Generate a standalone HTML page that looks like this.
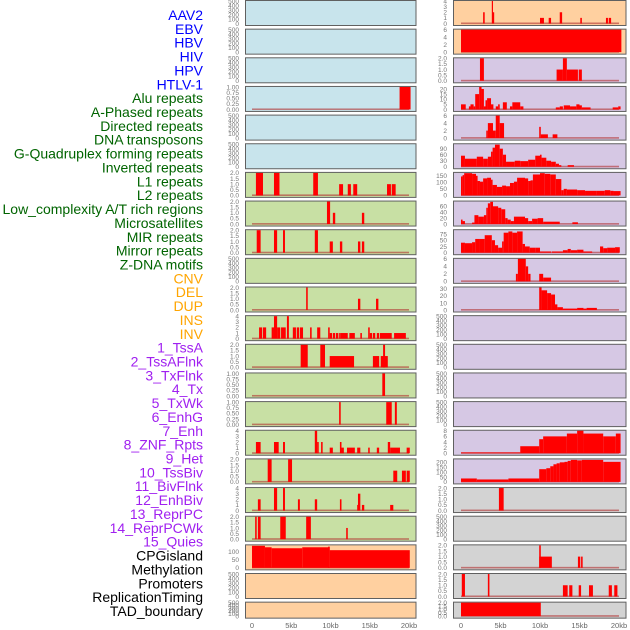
<!DOCTYPE html>
<html><head><meta charset="utf-8"><style>
body{margin:0;background:#fff}
svg{display:block;font-family:"Liberation Sans",sans-serif}
</style></head><body>
<svg id="chart" width="630" height="630" viewBox="0 0 630 630"></svg>
<script>
// ---- data: [startKb, endKb, value] per panel ----
const labelsText = ["AAV2","EBV","HBV","HIV","HPV","HTLV-1","Alu repeats","A-Phased repeats","Directed repeats","DNA transposons","G-Quadruplex forming repeats","Inverted repeats","L1 repeats","L2 repeats","Low_complexity A/T rich regions","Microsatellites","MIR repeats","Mirror repeats","Z-DNA motifs","CNV","DEL","DUP","INS","INV","1_TssA","2_TssAFlnk","3_TxFlnk","4_Tx","5_TxWk","6_EnhG","7_Enh","8_ZNF_Rpts","9_Het","10_TssBiv","11_BivFlnk","12_EnhBiv","13_ReprPC","14_ReprPCWk","15_Quies","CPGisland","Methylation","Promoters","ReplicationTiming","TAD_boundary"];
const labelColors = ["blue","blue","blue","blue","blue","blue","#006400","#006400","#006400","#006400","#006400","#006400","#006400","#006400","#006400","#006400","#006400","#006400","#006400","orange","orange","orange","orange","orange","#a020f0","#a020f0","#a020f0","#a020f0","#a020f0","#a020f0","#a020f0","#a020f0","#a020f0","#a020f0","#a020f0","#a020f0","#a020f0","#a020f0","#a020f0","#000","#000","#000","#000","#000"];
const xTicks = [0,5,10,15,20];
const xTickLabels = ["0","5kb","10kb","15kb","20kb"];

const L3 = [[18.8,20.2,1]];
const L6 = [[0.5,1.4,2],[2.8,3.5,2],[7.8,8.4,2],[11.1,11.6,1],[12.2,12.6,1],[12.9,13.4,1],[17.2,17.7,1],[17.8,18.3,1]];
const L7 = [[9.55,9.95,2],[10.3,10.6,1],[14.0,14.3,1]];
const L8 = [[0.6,1.1,2],[2.8,3.2,2],[3.95,4.2,2],[8.0,8.4,2],[9.9,10.3,1],[11.2,11.5,1],[13.5,13.8,1],[14.0,14.3,1]];
const L10 = [[6.9,7.1,2],[13.5,13.8,1],[15.8,16.1,1]];
const L11 = [[0.9,1.3,2],[1.4,1.8,2],[2.5,2.8,2],[2.8,3.2,4],[3.2,3.6,2],[3.7,4.3,2],[4.45,4.7,4],[5.2,5.6,2],[5.7,6.0,2],[6.1,6.5,2],[7.4,7.6,2],[8.3,8.7,2],[9.7,9.9,2],[9.9,10.2,1],[10.3,10.6,1],[10.7,11.0,1],[11.1,11.3,1],[11.3,12.2,1],[12.4,13.1,1],[13.8,14.0,1],[14.8,15.0,2],[15.0,15.3,1],[15.4,15.7,1],[15.9,16.2,1],[16.3,17.8,1],[18.1,19.6,1]];
const L12 = [[6.2,7.1,2],[8.7,9.3,2],[9.9,13.0,1],[15.4,16.2,1],[16.4,17.3,1],[16.7,16.95,2]];
const L13 = [[16.6,16.95,1]];
const L14 = [[11.1,11.3,1],[17.1,17.8,1],[18.2,18.45,1]];
const L15 = [[0.5,1.1,2],[2.8,3.4,2],[3.95,4.2,2],[8.0,8.3,4],[8.3,8.5,2],[8.8,9.0,2],[9.9,10.3,1],[11.2,11.4,2],[11.4,11.7,1],[12.1,13.1,1],[13.4,13.8,1],[14.8,15.0,1],[15.9,16.2,1],[17.3,17.6,2],[17.6,18.85,1],[19.7,20.1,1]];
const L16 = [[2.0,2.5,2],[4.6,5.1,2],[18.0,18.5,1],[19.1,19.6,1],[19.7,20.1,1]];
const L17 = [[0.75,1.1,2],[2.8,3.2,4],[3.95,4.2,4],[5.85,6.1,2],[8.0,8.3,2],[11.2,11.4,2],[13.4,13.6,1],[13.5,13.8,3],[14.0,14.3,1],[17.6,18.0,1]];
const L18 = [[0.4,0.6,2],[0.75,1.1,2],[3.6,4.3,2],[6.9,7.5,2],[12.0,12.2,1]];
const L19 = [[0,1.65,137],[1.65,2.5,128],[2.5,6.4,122],[6.4,9.9,128],[9.7,9.9,132],[9.9,20.1,110]];

const R0 = [[2.8,3.0,2],[3.9,4.05,4],[4.05,4.2,2],[10.0,10.5,1],[11.1,11.4,1],[12.5,12.8,2],[15.1,15.3,1],[18.35,18.6,1],[18.7,19.0,1]];
const R1 = [[0,20.3,6]];
const R2 = [[2.4,2.9,2],[12.1,12.9,1],[12.9,13.4,2],[13.4,14.8,1],[14.9,15.3,1]];
const R3 = [[0,0.6,5],[1.0,1.2,3],[1.2,1.6,5],[1.6,1.8,3],[1.8,2.3,15],[2.3,2.6,22],[2.6,2.9,20],[2.9,3.1,3],[3.1,3.3,9],[3.3,3.8,11],[3.8,4.1,5],[4.4,4.7,3],[4.7,4.9,5],[5.3,5.8,7],[6.2,6.5,3],[6.5,7.5,7],[7.5,7.9,3],[12.0,12.5,2],[12.5,12.9,3],[13.0,13.8,4],[13.8,14.6,3],[14.6,15.0,5],[15.0,15.3,4],[15.3,16.4,2],[19.2,19.9,2],[19.9,20.2,3]];
const R4 = [[3.2,3.4,2],[3.4,4.05,4],[4.05,4.4,2],[4.4,4.9,6],[4.9,5.45,4],[9.9,10.1,3],[10.1,11.0,1],[11.6,12.2,1]];
const R5 = [[0,0.5,55],[0.5,2.0,40],[2.0,2.8,50],[2.8,3.4,40],[3.4,3.8,50],[3.8,4.0,75],[4.0,4.3,95],[4.3,4.9,110],[4.9,5.3,90],[5.3,5.7,60],[5.7,6.8,25],[6.8,7.5,30],[7.5,8.5,28],[8.5,9.4,35],[9.4,10.0,55],[10.0,10.2,60],[10.2,10.8,45],[10.8,11.4,30],[11.4,12.0,25],[12.0,12.4,15],[12.4,12.7,8],[13.5,14.3,8]];
const R6 = [[0,0.2,145],[0.2,0.4,155],[0.4,1.4,170],[1.4,1.9,165],[1.9,2.1,150],[2.1,2.4,110],[2.4,2.8,105],[2.8,3.3,130],[3.3,3.8,135],[3.8,4.0,120],[4.0,4.55,80],[4.55,5.2,65],[5.2,5.7,75],[5.7,6.2,70],[6.2,6.7,95],[6.7,7.1,105],[7.1,8.1,135],[8.1,8.5,130],[8.5,8.8,110],[8.8,9.1,115],[9.1,10.0,160],[10.0,10.6,170],[10.6,11.3,165],[11.3,12.0,160],[12.0,12.7,125],[12.7,13.0,40],[13.0,13.4,50],[13.4,14.7,45],[14.7,15.7,40],[15.7,17.2,35],[17.2,18.2,35],[18.2,18.9,40],[18.9,19.3,35],[19.3,20.2,33]];
const R7 = [[0,0.2,15],[0.2,0.5,10],[1.4,1.7,5],[1.7,2.2,30],[2.2,2.9,25],[2.9,3.2,30],[3.2,3.4,55],[3.4,3.7,70],[3.7,4.05,75],[4.05,4.7,60],[4.7,5.1,55],[5.1,5.6,50],[5.6,5.9,20],[5.9,6.3,15],[6.3,6.7,10],[6.7,8.1,25],[8.1,8.5,20],[8.5,9.0,10],[9.0,9.7,18],[9.7,10.4,20],[10.4,12.5,8],[14.1,14.8,6]];
const R8 = [[0,0.5,40],[0.5,1.4,38],[1.4,1.8,42],[1.8,2.4,55],[2.4,3.0,55],[3.0,3.9,70],[3.9,4.3,50],[4.3,4.7,30],[4.7,5.2,20],[5.2,5.4,45],[5.4,6.0,80],[6.0,6.5,85],[6.5,7.1,80],[7.1,7.8,85],[7.8,8.1,35],[8.1,8.7,25],[8.7,9.4,20],[9.4,10.0,20],[10.0,11.4,5],[11.5,12.9,5],[12.9,13.5,10],[13.5,13.9,15],[13.9,14.7,10],[14.7,15.5,12],[15.5,16.6,5],[17.6,18.0,25],[18.0,18.5,18],[18.5,19.5,20],[19.5,20.1,22]];
const R9 = [[6.95,7.2,2],[7.2,8.2,6],[8.2,8.5,4],[8.5,8.8,2],[9.9,10.4,2],[10.4,11.4,1]];
const R10 = [[9.9,10.2,32],[10.2,10.9,28],[10.9,11.4,24],[11.4,11.9,22],[11.9,12.2,8],[12.2,12.9,4],[12.9,14.7,2],[14.7,15.5,3],[15.5,15.9,2],[15.9,17.2,3]];
const R15 = [[0,7.5,0.3],[7.5,9.9,2.5],[9.9,10.4,5],[10.4,13.4,6],[13.4,14.7,7],[14.7,15.5,8],[15.5,18.0,7],[18.0,19.6,6],[19.6,20.2,7]];
const R16 = [[0,2.0,35],[2.0,6.0,25],[6.0,9.9,35],[9.9,10.8,130],[10.8,11.3,140],[11.3,11.7,160],[11.7,12.1,180],[12.1,12.5,190],[12.5,13.1,200],[13.1,13.5,205],[13.5,13.9,215],[13.9,14.7,225],[14.7,15.3,220],[15.3,18.0,225],[18.0,20.2,205]];
const R17 = [[4.8,5.4,2]];
const R19 = [[9.9,10.1,2],[9.9,11.5,1],[14.8,15.1,1],[15.2,15.4,1]];
const R20 = [[0.1,0.5,2],[3.4,3.6,2],[12.9,13.5,1],[13.7,14.1,1],[14.9,15.2,1],[16.2,16.7,1],[18.7,19.1,1],[19.4,19.8,1]];
const R21 = [[0,10.1,2]];

const EMPTY = null;
const leftBars  = [EMPTY,EMPTY,EMPTY,L3,EMPTY,EMPTY,L6,L7,L8,EMPTY,L10,L11,L12,L13,L14,L15,L16,L17,L18,L19,EMPTY,EMPTY];
const leftMax   = [500,500,500,1,500,500,2,2,2,500,2,4,2,1,1,4,2,4,2,140,500,500];
const leftTicks = [[0,100,200,300,400,500],[0,100,200,300,400,500],[0,100,200,300,400,500],["0.00","0.25","0.50","0.75","1.00"],[0,100,200,300,400,500],[0,100,200,300,400,500],["0.0","0.5","1.0","1.5","2.0"],["0.0","0.5","1.0","1.5","2.0"],["0.0","0.5","1.0","1.5","2.0"],[0,100,200,300,400,500],["0.0","0.5","1.0","1.5","2.0"],[0,1,2,3,4],["0.0","0.5","1.0","1.5","2.0"],["0.00","0.25","0.50","0.75","1.00"],["0.00","0.25","0.50","0.75","1.00"],[0,1,2,3,4],["0.0","0.5","1.0","1.5","2.0"],[0,1,2,3,4],["0.0","0.5","1.0","1.5","2.0"],[0,50,100],[0,100,200,300,400,500],[0,100,200,300,400,500]];
const rightBars  = [R0,R1,R2,R3,R4,R5,R6,R7,R8,R9,R10,EMPTY,EMPTY,EMPTY,EMPTY,R15,R16,R17,EMPTY,R19,R20,R21];
const rightMax   = [4,6,2,22,6,112,172,76,90,6,32,500,500,500,500,8,230,2,500,2,2,2];
const rightTicks = [[0,1,2,3,4],[0,2,4,6],["0.0","0.5","1.0","1.5","2.0"],[0,5,10,15,20],[0,2,4,6],[0,30,60,90],[0,50,100,150],[0,20,40,60],[0,25,50,75],[0,2,4,6],[0,10,20,30],[0,100,200,300,400,500],[0,100,200,300,400,500],[0,100,200,300,400,500],[0,100,200,300,400,500],[0,2,4,6,8],[0,50,100,150,200],["0.0","0.5","1.0","1.5","2.0"],[0,100,200,300,400,500],["0.0","0.5","1.0","1.5","2.0"],["0.0","0.5","1.0","1.5","2.0"],["0.0","0.5","1.0","1.5","2.0"]];
const leftBg  = ["#c8e4ec","#c8e4ec","#c8e4ec","#c8e4ec","#c8e4ec","#c8e4ec","#c8e0a4","#c8e0a4","#c8e0a4","#c8e0a4","#c8e0a4","#c8e0a4","#c8e0a4","#c8e0a4","#c8e0a4","#c8e0a4","#c8e0a4","#c8e0a4","#c8e0a4","#ffd0a0","#ffd0a0","#ffd0a0"];
const rightBg = ["#ffd0a0","#ffd0a0","#d6c8e4","#d6c8e4","#d6c8e4","#d6c8e4","#d6c8e4","#d6c8e4","#d6c8e4","#d6c8e4","#d6c8e4","#d6c8e4","#d6c8e4","#d6c8e4","#d6c8e4","#d6c8e4","#d6c8e4","#d3d3d3","#d3d3d3","#d3d3d3","#d3d3d3","#d3d3d3"];

const NS = "http://www.w3.org/2000/svg";
const svg = document.getElementById("chart");
function mk(tag, attrs, parent){ const e=document.createElementNS(NS,tag); for(const k in attrs) e.setAttribute(k,attrs[k]); (parent||svg).appendChild(e); return e; }

// labels
labelsText.forEach((t,i)=>{
  const el = mk("text",{x:203,y:15+i*13.86+5,"text-anchor":"end","font-size":"14",fill:labelColors[i]});
  el.textContent = t;
  
  
});

const cols = [
  {x0:245.5,x1:416,xz:252,xs:7.85,tickX:239,bars:leftBars,max:leftMax,ticks:leftTicks,bg:leftBg,side:"left"},
  {x0:453.5,x1:626,xz:461,xs:7.9,tickX:447,bars:rightBars,max:rightMax,ticks:rightTicks,bg:rightBg,side:"right"}
];
cols.forEach(c=>{
  const xKb = kb => c.xz + kb*c.xs;
  for(let i=0;i<22;i++){
    const top = i*28.65, h = (i===21)?16:25;
    const yv = v => top + h - 1.5 - v/c.max[i]*(h-2.5);
    const g = mk("g",{});
    
    
    mk("rect",{x:c.x0,y:top+0.5,width:c.x1-c.x0,height:h,fill:c.bg[i],stroke:"#606060","stroke-width":"1"},g);
    const tks = c.ticks[i];
    tks.forEach((tk,k)=>{
      const v = parseFloat(tk);
      const t = mk("text",{x:c.tickX,y:yv(v)+2.3,"text-anchor":"end","font-size":"6.5",fill:"#777"},g);
      t.textContent = tk;
      
      
    });
    const data = c.bars[i];
    if(data){
      const bl = mk("rect",{x:xKb(0),y:yv(0)-1,width:xKb(20)-xKb(0),height:1.6,fill:"#b03030","fill-opacity":"0.6"},g);
      
      
      data.forEach(d=>{
        const x1=xKb(d[0]), x2=xKb(d[1]), y=yv(d[2]);
        const b = mk("rect",{x:x1,y:y,width:Math.max(1,x2-x1),height:Math.max(0.5,yv(0)-y),fill:"#ff0000"},g);
        
        
      });
    }
  }
  xTicks.forEach((kb,k)=>{
    const t = mk("text",{x:xKb(kb),y:628,"text-anchor":"middle","font-size":"7.5",fill:"#666"});
    t.textContent = xTickLabels[k];
    
    
  });
});
</script>
</body></html>
